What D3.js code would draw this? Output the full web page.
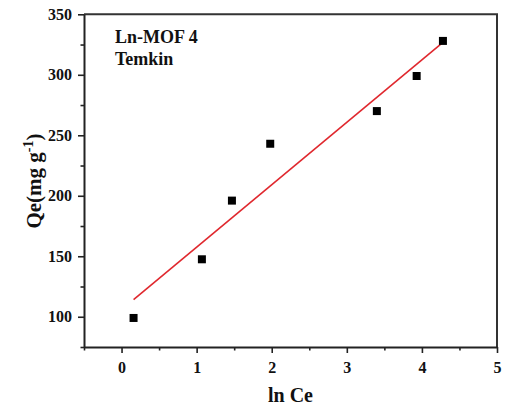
<!DOCTYPE html>
<html>
<head>
<meta charset="utf-8">
<script src="https://cdn.jsdelivr.net/npm/d3@7"></script>
<style>
  html, body { margin: 0; padding: 0; background: #fff; }
  svg { display: block; }
</style>
</head>
<body>
<svg id="chart" width="507" height="410"></svg>
<script>
// Temkin isotherm data: ln Ce vs Qe
const lnCe = [0.16, 1.07, 1.47, 1.98, 3.40, 3.93, 4.28];
const qe = [99, 147.5, 196, 243, 270, 299, 328];

const xTicks = [0, 1, 2, 3, 4, 5];
const xMinorTicks = [-0.5, 0.5, 1.5, 2.5, 3.5, 4.5];
const yTicks = [100, 150, 200, 250, 300, 350];
const yMinorTicks = [75, 125, 175, 225, 275, 325];

const titleLines = ["Ln-MOF 4", "Temkin"];

const FONT = '"Liberation Serif", "Times New Roman", Times, serif';

const svg = d3.select("#chart")
  .attr("font-family", FONT)
  .attr("font-weight", "bold");
const plotLeft = 84, plotRight = 497, plotTop = 14.3, plotBottom = 347;

const x = d3.scaleLinear().domain([-0.5, 5]).range([plotLeft, plotRight]);
const y = d3.scaleLinear().domain([75, 350]).range([plotBottom, plotTop]);

// frame (top and right)
svg.append("path")
  .attr("d", `M${plotLeft},${plotTop}H${plotRight}V${plotBottom}`)
  .attr("fill", "none").attr("stroke", "#333").attr("stroke-width", 2);

// minor ticks
svg.append("g").attr("transform", `translate(0,${plotBottom})`)
  .call(d3.axisBottom(x).tickValues(xMinorTicks).tickSize(3.5).tickSizeOuter(0).tickFormat(""))
  .call(g => g.select(".domain").remove())
  .selectAll("line").attr("stroke", "#222").attr("stroke-width", 1.6);
svg.append("g").attr("transform", `translate(${plotLeft},0)`)
  .call(d3.axisLeft(y).tickValues(yMinorTicks).tickSize(3.5).tickSizeOuter(0).tickFormat(""))
  .call(g => g.select(".domain").remove())
  .selectAll("line").attr("stroke", "#222").attr("stroke-width", 1.6);

// major axes
const xAxis = svg.append("g").attr("transform", `translate(0,${plotBottom})`)
  .call(d3.axisBottom(x).tickValues(xTicks).tickSize(6).tickSizeOuter(0).tickPadding(6).tickFormat(d3.format("d")));
const yAxis = svg.append("g").attr("transform", `translate(${plotLeft},0)`)
  .call(d3.axisLeft(y).tickValues(yTicks).tickSize(6).tickSizeOuter(0).tickPadding(6).tickFormat(d3.format("d")));

[xAxis, yAxis].forEach(g => {
  g.attr("font-family", FONT).attr("font-size", 16).attr("font-weight", "bold");
  g.select(".domain").attr("stroke", "#222").attr("stroke-width", 2);
  g.selectAll(".tick line").attr("stroke", "#222").attr("stroke-width", 1.6);
  g.selectAll(".tick text").attr("fill", "#111");
});
xAxis.selectAll(".tick text").attr("dy", "0.85em");

// least-squares fit line over the data range
const mx = d3.mean(lnCe), my = d3.mean(qe);
const sxy = d3.sum(lnCe, (v, i) => (v - mx) * (qe[i] - my));
const sxx = d3.sum(lnCe, v => (v - mx) * (v - mx));
const slope = sxy / sxx, intercept = my - slope * mx;
const [x0, x1] = d3.extent(lnCe);
svg.append("line")
  .attr("x1", x(x0)).attr("y1", y(intercept + slope * x0))
  .attr("x2", x(x1)).attr("y2", y(intercept + slope * x1))
  .attr("stroke", "#e0282e").attr("stroke-width", 1.6);

// data markers
const size = 8;
svg.append("g").selectAll("rect")
  .data(lnCe.map((v, i) => [v, qe[i]]))
  .join("rect")
  .attr("x", d => x(d[0]) - size / 2)
  .attr("y", d => y(d[1]) - size / 2)
  .attr("width", size).attr("height", size)
  .attr("fill", "#000");

// annotation
svg.append("g").selectAll("text")
  .data(titleLines)
  .join("text")
  .attr("x", 115).attr("y", (d, i) => 43 + i * 22)
  .attr("font-size", 18).attr("fill", "#111")
  .text(d => d);

// axis titles
svg.append("text")
  .attr("x", 290.5).attr("y", 402)
  .attr("text-anchor", "middle")
  .attr("font-size", 20).attr("fill", "#111")
  .text("ln Ce");

const yLabel = svg.append("text")
  .attr("transform", "translate(41,181) rotate(-90)")
  .attr("text-anchor", "middle")
  .attr("font-size", 21).attr("fill", "#111");
yLabel.append("tspan").text("Qe(mg g");
yLabel.append("tspan").attr("dy", -8).attr("font-size", 14).text("-1");
yLabel.append("tspan").attr("dy", 8).text(")");
</script>
</body>
</html>
